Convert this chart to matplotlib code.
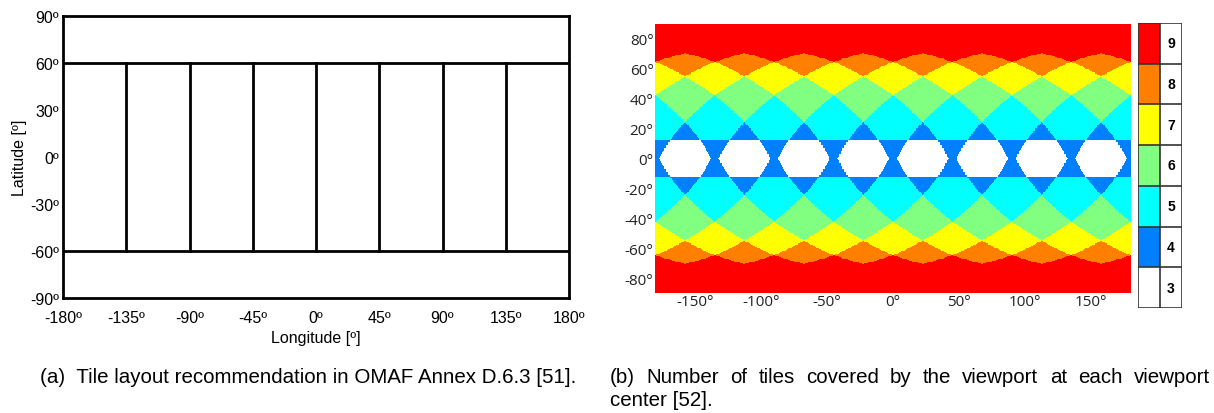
import numpy as np
import matplotlib
matplotlib.use("Agg")
from matplotlib import pyplot as plt
from matplotlib.colors import ListedColormap
from matplotlib.patches import Rectangle

# tile layout (OMAF Annex D.6.3): two polar caps + 8 equatorial tiles
lat_edges = [-90, -60, 60, 90]
lon_edges = [-180, -135, -90, -45, 0, 45, 90, 135, 180]
lat_ticks = [-90, -60, -30, 0, 30, 60, 90]
lon_ticks = [-180, -135, -90, -45, 0, 45, 90, 135, 180]

# viewport used for panel (b) (deg)
fov_h = 96
fov_v = 95

# panel (b) legend
tile_counts = [3, 4, 5, 6, 7, 8, 9]
count_colors = ["#ffffff", "#0080ff", "#00ffff", "#80ff80", "#ffff00", "#ff8000", "#ff0000"]
b_lat_ticks = [-80, -60, -40, -20, 0, 20, 40, 60, 80]
b_lon_ticks = [-150, -100, -50, 0, 50, 100, 150]

cap_a = "(a)  Tile layout recommendation in OMAF Annex D.6.3 [51]."
cap_b1 = "(b)  Number of tiles covered by the viewport at each viewport"
cap_b2 = "center [52]."

cap_lat = lat_edges[2]


def count_tiles(lat_c, lon_c):
    # sample the rectilinear viewport, rotate to each center latitude
    u = np.linspace(-1, 1, 241)
    U, V = np.meshgrid(u * np.tan(np.radians(fov_h / 2)), u * np.tan(np.radians(fov_v / 2)))
    e = np.array(lon_edges)
    counts = np.zeros((len(lat_c), len(lon_c)))
    for i, phi in enumerate(lat_c):
        p = np.radians(phi)
        xr = np.cos(p) - V * np.sin(p)
        zr = np.sin(p) + V * np.cos(p)
        lat = np.degrees(np.arctan2(zr, np.hypot(xr, U)))
        lon = np.degrees(np.arctan2(U, xr))
        band = np.abs(lat) < cap_lat
        cap = int((np.abs(lat) >= cap_lat).any())
        a = np.abs(lon[band]).max()
        lo = lon_c[:, None] - a
        hi = lon_c[:, None] + a
        hit = np.zeros((len(lon_c), len(e) - 1), bool)
        for k in (-360, 0, 360):
            hit |= (lo < e[None, 1:] + k) & (hi > e[None, :-1] + k)
        counts[i] = hit.sum(axis=1) + cap
    return counts


fig = plt.figure(figsize=(12.14, 4.14), dpi=100)
W, H = 1214.0, 414.0


def px_axes(x0, y0, x1, y1):
    return fig.add_axes([x0 / W, 1 - y1 / H, (x1 - x0) / W, (y1 - y0) / H])


# ---- panel (a)
ax = px_axes(63, 17, 569, 299)
for y in lat_edges[1:-1]:
    ax.plot([-180, 180], [y, y], "k", lw=2)
for x in lon_edges[1:-1]:
    ax.plot([x, x], [lat_edges[1], lat_edges[2]], "k", lw=2)
ax.set_xlim(-180, 180)
ax.set_ylim(-90, 90)
ax.set_xticks(lon_ticks)
ax.set_yticks(lat_ticks)
ax.set_xticklabels(["%dº" % v for v in lon_ticks], fontname="Liberation Sans", fontsize=11.5)
ax.set_yticklabels(["%dº" % v for v in lat_ticks], fontname="Liberation Sans", fontsize=11.5)
ax.tick_params(axis="y", length=0, pad=3)
ax.tick_params(axis="x", length=0, pad=9)
for s in ax.spines.values():
    s.set_linewidth(2)
ax.set_xlabel("Longitude [º]", fontname="Liberation Sans", fontsize=11.5, labelpad=3)
ax.set_ylabel("Latitude [º]", fontname="Liberation Sans", fontsize=11.5, labelpad=2)

# ---- panel (b)
lat_c = np.linspace(-90, 90, 361)
lon_c = np.linspace(-180, 180, 721)
counts = count_tiles(lat_c, lon_c)
bx = px_axes(655, 25, 1131, 294)
bx.imshow(counts, cmap=ListedColormap(count_colors), vmin=2.5, vmax=9.5,
          extent=[-180, 180, -90, 90], origin="lower", aspect="auto", interpolation="nearest")
bx.set_xticks(b_lon_ticks)
bx.set_yticks(b_lat_ticks)
bx.set_xticklabels(["%d°" % v for v in b_lon_ticks], fontname="Open Sans", fontsize=11, color="#222222")
bx.set_yticklabels(["%d°" % v for v in b_lat_ticks], fontname="Open Sans", fontsize=11, color="#222222")
bx.tick_params(length=0, pad=1)
for s in bx.spines.values():
    s.set_visible(False)

# legend table
tx = px_axes(1138, 24, 1182, 309)
n = len(tile_counts)
for j, (c, col) in enumerate(zip(tile_counts, count_colors)):
    tx.add_patch(Rectangle((0, j), 1, 1, facecolor=col, edgecolor="none"))
    tx.text(1.5, j + 0.5, str(c), ha="center", va="center", fontsize=10,
            fontweight="bold", fontname="Liberation Sans")
for j in range(n + 1):
    tx.plot([0, 2], [j, j], color="#333333", lw=1.2)
for x in (0, 1, 2):
    tx.plot([x, x], [0, n], color="#333333", lw=1.2)
tx.set_xlim(0, 2)
tx.set_ylim(0, n)
tx.axis("off")

# captions
cap_kw = dict(fontname="Liberation Sans", fontsize=14.8, va="center")
fig.text(40 / W, 1 - 378 / H, cap_a, **cap_kw)

# first line of (b) is justified between x=610 and x=1210
words = cap_b1.replace("(b)  ", "(b) ").split(" ")
r = fig.canvas.get_renderer()
widths = []
for w in words:
    t = fig.text(0, 0, w, **cap_kw)
    widths.append(t.get_window_extent(r).width)
    t.remove()
gap = (1210 - 610 - sum(widths)) / (len(words) - 1)
x = 610.0
for w, wd in zip(words, widths):
    fig.text(x / W, 1 - 378 / H, w, **cap_kw)
    x += wd + gap
fig.text(610 / W, 1 - 401 / H, cap_b2, **cap_kw)

fig.savefig("out.png", dpi=100)
